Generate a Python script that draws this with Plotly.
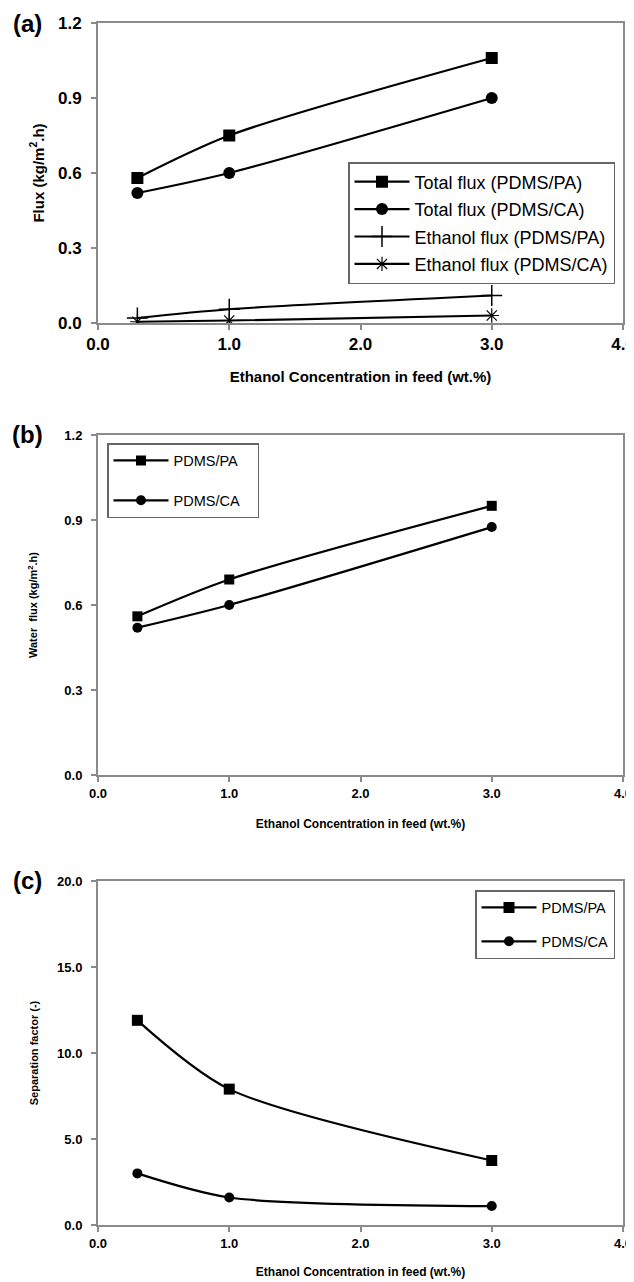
import plotly.graph_objects as go

# ---------------- data ----------------
conc = [0.3, 1.0, 3.0]

# (a) flux
total_flux_pa = [0.58, 0.75, 1.06]
total_flux_ca = [0.52, 0.60, 0.90]
ethanol_flux_pa = [0.02, 0.055, 0.11]
ethanol_flux_ca = [0.005, 0.01, 0.03]

# (b) water flux
water_flux_pa = [0.56, 0.69, 0.95]
water_flux_ca = [0.52, 0.60, 0.875]

# (c) separation factor
sep_pa = [11.9, 7.9, 3.75]
sep_ca = [3.0, 1.6, 1.1]

x_ticks = [0, 1, 2, 3, 4]
x_ticklabels = ["0.0", "1.0", "2.0", "3.0", "4.0"]
ya_ticks = [0, 0.3, 0.6, 0.9, 1.2]
ya_ticklabels = ["0.0", "0.3", "0.6", "0.9", "1.2"]
yc_ticks = [0, 5, 10, 15, 20]
yc_ticklabels = ["0.0", "5.0", "10.0", "15.0", "20.0"]

# the page body adds an 8px margin; lay out in window pixels minus that offset
OFF = 8
W, H = 634 - OFF, 1282 - OFF
FONT = "Arial, Liberation Sans, Helvetica, sans-serif"
AX = "#8a8a8a"
PAD = "\u00a0\u00a0\u00a0"

def px(xw):
    return (xw - OFF) / W

def py(yw):
    return 1 - (yw - OFF) / H

fig = go.Figure()

def line(x, y, name, symbol, size, xaxis, yaxis, legend, mlw=0):
    return go.Scatter(
        x=x, y=y, name=name, mode="lines+markers",
        line=dict(color="black", width=2.2, shape="spline", smoothing=0.8),
        marker=dict(symbol=symbol, size=size, color="black",
                    line=dict(color="black", width=mlw)),
        xaxis=xaxis, yaxis=yaxis, legend=legend, legendgroup=name + xaxis,
    )

# panel (a)
fig.add_trace(line(conc, total_flux_pa, "Total flux (PDMS/PA)", "square", 12, "x", "y", "legend"))
fig.add_trace(line(conc, total_flux_ca, "Total flux (PDMS/CA)", "circle", 12, "x", "y", "legend"))
fig.add_trace(line(conc, ethanol_flux_pa, "Ethanol flux (PDMS/PA)", "cross-thin-open", 15, "x", "y", "legend", 1.5))
fig.add_trace(line(conc, ethanol_flux_ca, "Ethanol flux (PDMS/CA)", "asterisk-open", 12, "x", "y", "legend", 1.2))

# panel (b)
fig.add_trace(line(conc, water_flux_pa, "PDMS/PA" + PAD, "square", 10, "x2", "y2", "legend2"))
fig.add_trace(line(conc, water_flux_ca, "PDMS/CA" + PAD, "circle", 10, "x2", "y2", "legend2"))

# panel (c)
fig.add_trace(line(conc, sep_pa, "PDMS/PA", "square", 11, "x3", "y3", "legend3"))
fig.add_trace(line(conc, sep_ca, "PDMS/CA", "circle", 10, "x3", "y3", "legend3"))

xdom = [px(98), px(623)]
def ydom(top, bottom):
    return [py(bottom), py(top)]

def xaxis(anchor, fs, title_fs, standoff):
    return dict(
        domain=xdom, anchor=anchor, range=[0, 4], tickvals=x_ticks, ticktext=x_ticklabels,
        showline=True, linecolor=AX, linewidth=2, mirror=True, showgrid=False, zeroline=False,
        ticks="outside", ticklen=5, tickcolor=AX, tickwidth=1.5, ticklabeloverflow="allow",
        tickfont=dict(family=FONT, size=fs, color="black", weight="bold"),
        title=dict(text="Ethanol Concentration in feed (wt.%)", standoff=standoff,
                   font=dict(family=FONT, size=title_fs, color="black", weight="bold")),
    )

def yaxis(anchor, dom, rng, tv, tt, fs, title, title_fs, standoff):
    return dict(
        domain=dom, anchor=anchor, range=rng, tickvals=tv, ticktext=tt,
        showline=True, linecolor=AX, linewidth=2, mirror=True, showgrid=False, zeroline=False,
        ticks="outside", ticklen=5, tickcolor=AX, tickwidth=1.5, ticklabelstandoff=6,
        tickfont=dict(family=FONT, size=fs, color="black", weight="bold"),
        title=dict(text=title, standoff=standoff,
                   font=dict(family=FONT, size=title_fs, color="black", weight="bold")),
    )

fig.update_layout(
    width=W, height=H, margin=dict(l=0, r=0, t=0, b=0, autoexpand=False),
    paper_bgcolor="white", plot_bgcolor="white",
    font=dict(family=FONT, color="black"),
    xaxis=xaxis("y", 17, 15, 18),
    yaxis=yaxis("x", ydom(23, 323), [0, 1.2], ya_ticks, ya_ticklabels, 17,
                "Flux (kg/m<sup>2</sup>.h)", 15, 10),
    xaxis2=xaxis("y2", 13, 12, 20),
    yaxis2=yaxis("x2", ydom(435, 775), [0, 1.2], ya_ticks, ya_ticklabels, 13,
                 "Water  flux (kg/m<sup>2</sup>.h)", 11, 24),
    xaxis3=xaxis("y3", 13, 12, 18),
    yaxis3=yaxis("x3", ydom(881, 1225), [0, 20], yc_ticks, yc_ticklabels, 13,
                 "Separation factor (-)", 11, 16),
    legend=dict(x=px(348), y=py(162), xanchor="left", yanchor="top",
                bordercolor="#666", borderwidth=1.5, bgcolor="white",
                font=dict(family=FONT, size=18, color="black"), tracegroupgap=1,
                itemwidth=55),
    legend2=dict(x=px(107), y=py(443), xanchor="left", yanchor="top",
                 bordercolor="#666", borderwidth=1.5, bgcolor="white",
                 font=dict(family=FONT, size=14.5, color="black"), tracegroupgap=18,
                 itemwidth=55),
    legend3=dict(x=px(615), y=py(890), xanchor="right", yanchor="top",
                 bordercolor="#666", borderwidth=1.5, bgcolor="white",
                 font=dict(family=FONT, size=14.5, color="black"), tracegroupgap=12,
                 itemwidth=55),
    showlegend=True,
)

for label, ytop in [("(a)", 23), ("(b)", 435), ("(c)", 880)]:
    fig.add_annotation(text=label, xref="paper", yref="paper", x=px(27), y=py(ytop),
                       xanchor="center", yanchor="middle", showarrow=False,
                       font=dict(family=FONT, size=24, color="black", weight="bold"))

fig.write_html("out.html")
